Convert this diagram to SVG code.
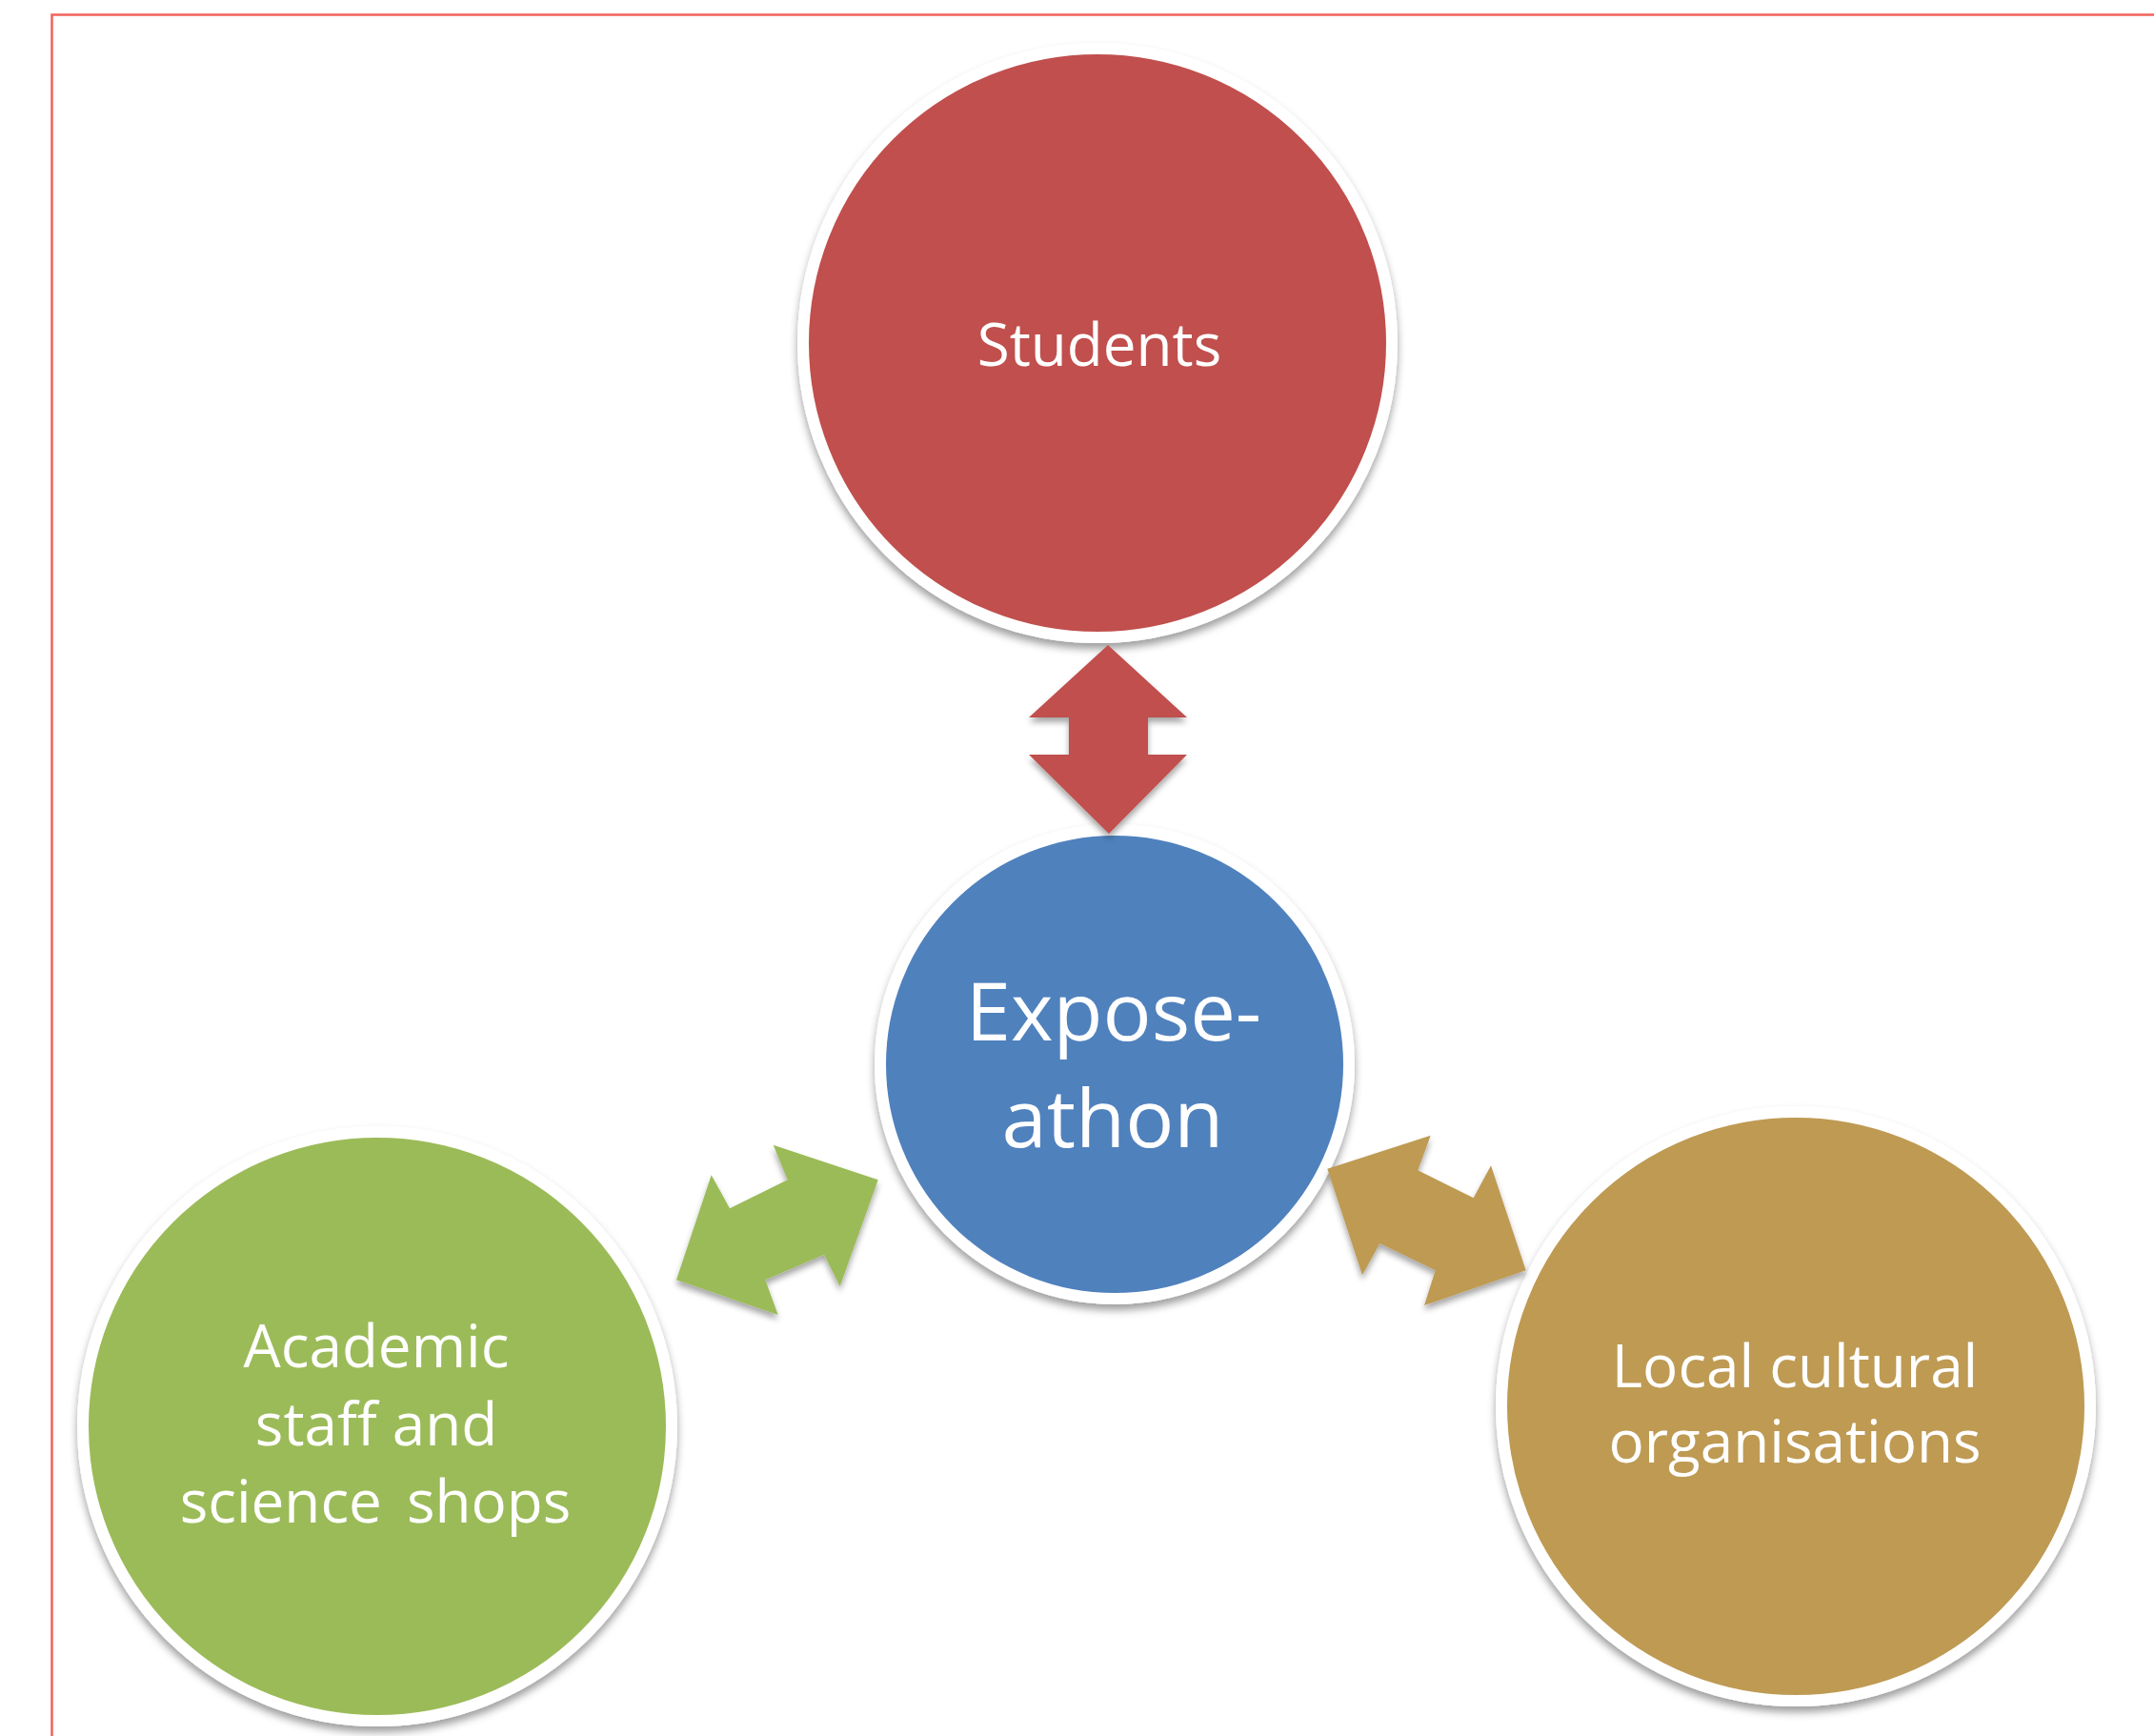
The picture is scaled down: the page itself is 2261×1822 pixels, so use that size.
<svg xmlns="http://www.w3.org/2000/svg" width="2261" height="1822" viewBox="0 0 2261 1822">
  <defs>
    <filter id="sh" x="-20%" y="-20%" width="140%" height="140%">
      <feDropShadow dx="0" dy="6" stdDeviation="4" flood-color="#000" flood-opacity="0.38"/>
    </filter>
    <filter id="ash" x="-20%" y="-20%" width="140%" height="140%">
      <feDropShadow dx="0" dy="5" stdDeviation="3" flood-color="#000" flood-opacity="0.35"/>
    </filter>
  </defs>
  <style>
    .node { stroke: #ffffff; stroke-width: 12; filter: url(#sh); }
    .lbl { font-family: "Open Sans", "Liberation Sans", sans-serif; fill: #ffffff; text-anchor: middle; font-size: 62px; }
    .big { font-size: 85px; }
    .arrow { filter: url(#ash); }
  </style>
  <rect x="0" y="0" width="2261" height="1822" fill="#ffffff"/>
  <rect x="54.5" y="15.5" width="2400" height="2000" fill="none" stroke="#F2625A" stroke-width="2.5"/>

  <g id="students">
    <circle class="node" cx="1152" cy="360" r="309" fill="#C0504D"/>
    <text class="lbl" x="1154" y="384">Students</text>
  </g>

  <g id="exposeathon">
    <circle class="node" cx="1170" cy="1117" r="246" fill="#4F81BD"/>
    <text class="lbl big" x="1169" y="1092">Expose-</text>
    <text class="lbl big" x="1168" y="1204">athon</text>
  </g>

  <g id="academic">
    <circle class="node" cx="396" cy="1497" r="309" fill="#9BBB59"/>
    <text class="lbl" x="395" y="1435">Academic</text>
    <text class="lbl" x="395" y="1517">staff and</text>
    <text class="lbl" x="394" y="1598" word-spacing="10">science shops</text>
  </g>

  <g id="local">
    <circle class="node" cx="1885" cy="1476" r="309" fill="#BE9A53"/>
    <text class="lbl" x="1884" y="1456">Local cultural</text>
    <text class="lbl" x="1884" y="1535">organisations</text>
  </g>

  <g id="connectors">
    <polygon class="arrow" fill="#C0504D" points="1163,677 1246,753 1205,753 1205,792 1246,792 1164,875 1080,792 1122,792 1122,753 1080,753"/>
    <polygon class="arrow" fill="#9BBB59" points="921.7,1238.3 811.7,1201.7 826.7,1238.3 766,1268.3 746.7,1233.3 710,1343.3 816.7,1380 803.3,1343.3 865,1316.7 881.7,1350"/>
    <polygon class="arrow" fill="#BE9A53" points="1393.3,1226.7 1501.7,1191.7 1488.3,1228.3 1546.7,1257.3 1565,1223.3 1601.7,1333.3 1495,1370 1506.7,1333.3 1448.3,1305 1430,1338.3"/>
  </g>
</svg>
